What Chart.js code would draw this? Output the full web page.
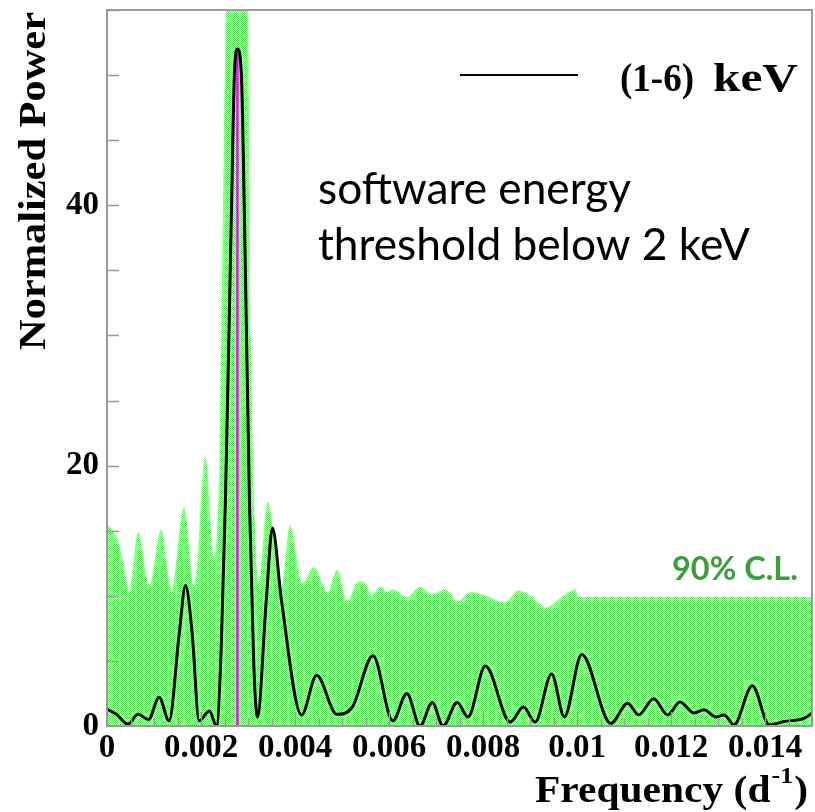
<!DOCTYPE html>
<html>
<head>
<meta charset="utf-8">
<script src="https://cdn.jsdelivr.net/npm/chart.js@4/dist/chart.umd.min.js"></script>
<style>
  html, body { margin: 0; padding: 0; background: #fff; }
  canvas { display: block; }
</style>
</head>
<body>
<canvas id="chart" width="815" height="812"></canvas>
<script>
// periodogram, (1-6) keV
const powerFreq = [0, 0.0002, 0.00045, 0.00066, 0.00088, 0.00111, 0.00132, 0.00154, 0.00167, 0.00181,
  0.00196, 0.00218, 0.00233, 0.00243, 0.00252, 0.00265, 0.00271, 0.002775, 0.00286, 0.00292,
  0.00303, 0.00312, 0.0032, 0.00339, 0.00352, 0.00371, 0.00414, 0.00446, 0.00489, 0.00521,
  0.00566, 0.00608, 0.00638, 0.00666, 0.00692, 0.00715, 0.00745, 0.00768, 0.00805, 0.00858,
  0.00886, 0.00911, 0.00946, 0.00973, 0.0101, 0.01072, 0.01108, 0.01131, 0.01163, 0.01193,
  0.01219, 0.01249, 0.0127, 0.01296, 0.01313, 0.01334, 0.01373, 0.01409, 0.01441, 0.01484, 0.015];
const powerValues = [1.3, 0.9, 0.15, 0.9, 0.5, 2.2, 0.4, 7.2, 10.8, 7.2,
  0.4, 1.15, 0.0, 6, 17.4, 40, 50, 52, 50, 40,
  17.4, 5, 0.7, 9.7, 15.2, 9.7, 0.85, 3.9, 0.9, 1.4,
  5.4, 0.4, 2.5, 0.0, 1.8, 0.0, 1.8, 0.7, 4.6, 0.3,
  1.45, 0.3, 4.0, 0.7, 5.5, 0.2, 1.75, 0.85, 2.1, 0.85,
  1.85, 1.0, 1.25, 0.7, 0.85, 0.1, 3.1, 0.1, 0.35, 0.6, 1.0];

// 90% C.L. band
const clFreq = [0, 0.00025, 0.0004, 0.00047, 0.00066, 0.0009, 0.00115, 0.00137, 0.00164, 0.00186,
  0.00209, 0.00228, 0.00239, 0.00247, 0.00254, 0.003, 0.00306, 0.00314, 0.00322, 0.00342,
  0.00371, 0.00389, 0.00416, 0.0044, 0.0047, 0.00489, 0.00512, 0.00534, 0.00549, 0.00564,
  0.00581, 0.00596, 0.00608, 0.00638, 0.00666, 0.00692, 0.00719, 0.00747, 0.00773, 0.008,
  0.00847, 0.00875, 0.00905, 0.00933, 0.00961, 0.00997, 0.01003, 0.015];
const clValues = [15.6, 14.1, 11.5, 10.3, 14.9, 10.8, 15.1, 10.5, 16.8, 10.7,
  20.7, 13.0, 20, 40, 55, 55, 30, 16, 11, 17.2,
  10.7, 15.4, 11, 12.2, 10.3, 12.0, 9.6, 11.1, 11.0, 10.1,
  10.7, 10.3, 10.5, 9.9, 10.7, 10.1, 10.5, 9.6, 10.3, 10.1,
  9.5, 10.4, 9.9, 9.1, 9.7, 10.5, 9.9, 9.9];

const peakFreq = 0.002775;
const peakPower = 52;

const xTickValues = [0, 0.002, 0.004, 0.006, 0.008, 0.01, 0.012, 0.014];
const xTickLabels = ['0', '0.002', '0.004', '0.006', '0.008', '0.01', '0.012', '0.014'];
const yTickValues = [0, 20, 40];
const yTickLabels = ['0', '20', '40'];

const SERIF = '"Liberation Serif", "Times New Roman", serif';
const SANS = 'Lato, "Open Sans", sans-serif';

const canvas = document.getElementById('chart');
const ctx = canvas.getContext('2d');

function makeHatch() {
  const c = document.createElement('canvas');
  c.width = 2; c.height = 2;
  const g = c.getContext('2d');
  g.fillStyle = '#dcfadc';
  g.fillRect(0, 0, 2, 2);
  g.fillStyle = '#5fe85f';
  g.fillRect(0, 0, 1, 1);
  g.fillRect(1, 1, 1, 1);
  return ctx.createPattern(c, 'repeat');
}

// draws text squeezed/stretched to a given width
function fitText(c, text, x, y, font, width) {
  c.font = font;
  const w = c.measureText(text).width;
  c.save();
  c.translate(x, y);
  c.scale(width / w, 1);
  c.textAlign = 'left';
  c.textBaseline = 'alphabetic';
  c.fillText(text, 0, 0);
  c.restore();
}

const frame = {
  id: 'frame',
  afterDraw(chart) {
    const c = chart.ctx;
    const a = chart.chartArea;
    const xs = chart.scales.x, ys = chart.scales.y;
    c.save();
    c.strokeStyle = '#9a9a9a';
    c.lineWidth = 1.5;
    c.beginPath();
    for (let v = 0; v <= 55; v += 5) {
      const y = Math.round(ys.getPixelForValue(v)) + 0.5;
      c.moveTo(a.left, y);
      c.lineTo(a.left + 12, y);
    }
    for (let i = 0; i <= 30; i++) {
      const x = Math.round(xs.getPixelForValue(i * 0.0005)) + 0.5;
      c.moveTo(x, a.bottom);
      c.lineTo(x, a.bottom - (i % 4 === 0 ? 14 : 8));
    }
    c.stroke();
    c.lineWidth = 2;
    c.strokeRect(a.left, a.top, a.right - a.left, a.bottom - a.top);
    c.restore();

    c.save();
    c.fillStyle = '#000';
    // y title
    c.save();
    c.translate(45, 350);
    c.rotate(-Math.PI / 2);
    fitText(c, 'Normalized Power', 0, 0, 'bold 37px ' + SERIF, 338);
    c.restore();

    // x title with superscript
    const big = 'bold 37px ' + SERIF, small = 'bold 23px ' + SERIF;
    c.font = big;
    const w1 = c.measureText('Frequency (d').width;
    const w3 = c.measureText(')').width;
    c.font = small;
    const w2 = c.measureText('-1').width + 2;
    const sx = 273 / (w1 + w2 + w3);
    c.save();
    c.translate(535, 802);
    c.scale(sx, 1);
    c.font = big;
    c.fillText('Frequency (d', 0, 0);
    c.font = small;
    c.fillText('-1', w1 + 1, -19);
    c.font = big;
    c.fillText(')', w1 + w2, 0);
    c.restore();

    // legend
    c.strokeStyle = '#000';
    c.lineWidth = 2;
    c.beginPath();
    c.moveTo(460, 75);
    c.lineTo(578, 75);
    c.stroke();
    fitText(c, '(1-6)', 620, 91, 'bold 40px ' + SERIF, 74);
    fitText(c, 'keV', 713, 91, 'bold 40px ' + SERIF, 85);

    // annotation
    c.font = '100px ' + SANS;
    const size = 100 * 432 / c.measureText('threshold below 2 keV').width;
    c.font = size + 'px ' + SANS;
    c.textAlign = 'left';
    c.fillText('software energy', 318, 204);
    c.fillText('threshold below 2 keV', 318, 260);

    c.fillStyle = '#3a9f3a';
    c.font = 'bold 100px ' + SANS;
    const s2 = 100 * 126 / c.measureText('90% C.L.').width;
    c.font = 'bold ' + s2 + 'px ' + SANS;
    c.fillText('90% C.L.', 672, 580);
    c.restore();
  }
};

const toPoints = (xs, ys) => xs.map((x, i) => ({ x: x, y: ys[i] }));

new Chart(ctx, {
  type: 'line',
  data: {
    datasets: [
      {
        label: '(1-6) keV',
        data: toPoints(powerFreq, powerValues),
        borderColor: '#000',
        backgroundColor: '#000',
        borderWidth: 3,
        pointRadius: 0,
        cubicInterpolationMode: 'monotone',
        fill: false,
        order: 0
      },
      {
        label: 'peak',
        data: [{ x: peakFreq, y: 0 }, { x: peakFreq, y: peakPower }],
        borderColor: '#ff00ff',
        borderWidth: 2.5,
        pointRadius: 0,
        fill: false,
        order: 1
      },
      {
        label: '90% C.L.',
        data: toPoints(clFreq, clValues),
        borderWidth: 0,
        borderColor: 'rgba(0,0,0,0)',
        backgroundColor: makeHatch(),
        pointRadius: 0,
        cubicInterpolationMode: 'monotone',
        fill: 'origin',
        order: 2
      }
    ]
  },
  options: {
    responsive: false,
    animation: false,
    devicePixelRatio: 1,
    layout: { padding: { top: 10, right: 3, left: 0, bottom: 0 } },
    plugins: { legend: { display: false }, tooltip: { enabled: false } },
    scales: {
      x: {
        type: 'linear',
        min: 0,
        max: 0.015,
        afterBuildTicks: s => { s.ticks = xTickValues.map(v => ({ value: v })); },
        afterFit: s => { s.height = 86; s.paddingLeft = 0; s.paddingRight = 0; },
        ticks: {
          callback: (v, i) => xTickLabels[i],
          font: { family: SERIF, weight: 'bold', size: 33 },
          color: '#000',
          padding: 3,
          maxRotation: 0,
          autoSkip: false
        },
        grid: { display: false, drawTicks: false },
        border: { display: false }
      },
      y: {
        min: 0,
        max: 55,
        afterBuildTicks: s => { s.ticks = yTickValues.map(v => ({ value: v })); },
        afterFit: s => { s.width = 107; s.paddingTop = 0; s.paddingBottom = 0; },
        ticks: {
          callback: (v, i) => yTickLabels[i],
          font: { family: SERIF, weight: 'bold', size: 33 },
          color: '#000',
          padding: 8
        },
        grid: { display: false, drawTicks: false },
        border: { display: false }
      }
    }
  },
  plugins: [frame]
});
</script>
</body>
</html>
